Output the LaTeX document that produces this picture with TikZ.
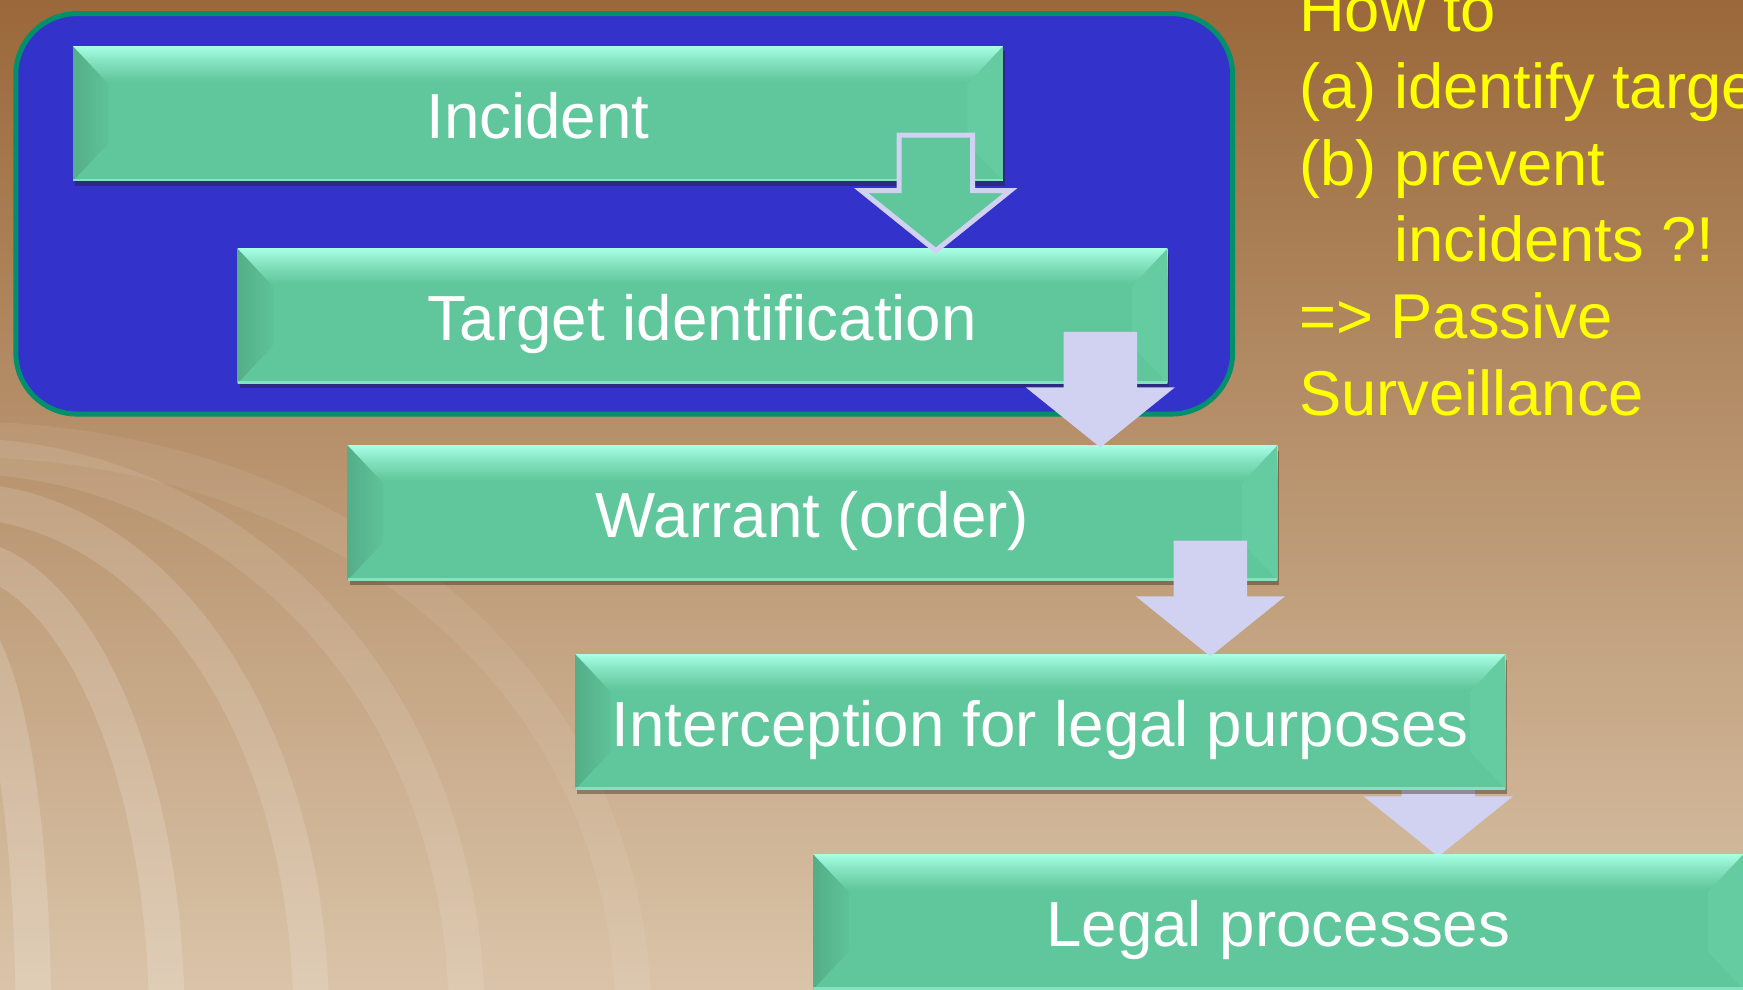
\documentclass[tikz,border=0pt]{standalone}
\usepackage{fontspec}
\setmainfont{Liberation Sans}
\usetikzlibrary{calc,shadows}
\pgfdeclarelayer{bglayer}
\pgfdeclarelayer{behind}
\pgfsetlayers{bglayer,behind,main}
\definecolor{boxgreen}{HTML}{60C69B}
\definecolor{boxlight}{HTML}{A8FFE4}
\definecolor{bevelL}{HTML}{54AE88}
\definecolor{bevelR}{HTML}{65CCA1}
\definecolor{lav}{HTML}{D1D1F1}
\definecolor{grpblue}{HTML}{3333CC}
\definecolor{grpgreen}{HTML}{00906C}
\definecolor{bgtop}{HTML}{9A683A}
\definecolor{bgmid}{HTML}{BC956D}
\definecolor{bgbot}{HTML}{DAC4A9}
\definecolor{txtyellow}{HTML}{FFFF00}
\pgfdeclareverticalshading{boxshade}{100bp}{color(0bp)=(boxgreen); color(62bp)=(boxgreen);
  color(70bp)=(boxlight!55!boxgreen); color(75bp)=(boxlight); color(100bp)=(boxlight)}
\tikzset{
  stepbox/.style={rectangle, fill=boxgreen, minimum width=8.36cm, minimum height=1.21cm,
    inner sep=0pt, anchor=north west, text=white, font=\fontsize{16.3}{19}\selectfont,
    text height=12.8pt, text depth=0pt,
    drop shadow={shadow xshift=0.5pt, shadow yshift=-1.3pt, opacity=0.38, fill=black!80!brown},
    path picture={
      \shade[shading=boxshade]
        (path picture bounding box.north west) rectangle (path picture bounding box.south east);
      \shade[left color=bevelL, right color=boxgreen!85!bevelL] (path picture bounding box.north west) -- ++(0.32cm,-0.34cm)
        -- ($(path picture bounding box.south west)+(0.32cm,0.34cm)$) -- (path picture bounding box.south west) -- cycle;
      \fill[bevelR] (path picture bounding box.north east) -- ++(-0.32cm,-0.34cm)
        -- ($(path picture bounding box.south east)+(-0.32cm,0.34cm)$) -- (path picture bounding box.south east) -- cycle;
      \draw[boxlight!50!boxgreen, line width=1.1pt]
        (path picture bounding box.south west) -- (path picture bounding box.south east);
    }},
  grpbox/.style={draw=grpgreen, line width=0.045cm, fill=grpblue, rounded corners=0.55cm},
  outarrow/.style={fill=boxgreen, draw=lav, line width=0.045cm},
  solidarrow/.style={fill=lav},
  sidetext/.style={anchor=base west, inner sep=0pt, text=txtyellow, font=\fontsize{16.2}{19.6}\selectfont},
  grain/.style={line width=0.32cm, draw=white, line cap=round},
}
\newcommand\flowarrow[3][]{%
  \coordinate (ax) at ($(#2.south east)+(-0.61cm,0)$);
  \coordinate (tip) at ($(ax |- #3.north)+(0,-0.025cm)$);
  \path[#1] (tip) -- +(0.67cm,0.54cm) -- +(0.33cm,0.54cm) -- +(0.33cm,1.04cm)
    -- +(-0.33cm,1.04cm) -- +(-0.33cm,0.54cm) -- +(-0.67cm,0.54cm) -- cycle;}
\begin{document}
\begin{tikzpicture}[x=0.01cm,y=-0.01cm]
\useasboundingbox (0,0) rectangle (1568,890);
\begin{pgfonlayer}{bglayer}
  \shade[top color=bgtop, middle color=bgmid, bottom color=bgbot] (0,0) rectangle (1568,890);
  \begin{scope}
    \clip (0,376) rectangle (900,890);
    \draw[grain, draw opacity=0.17] (30,920) .. controls (30,720) and (0,560) .. (-40,560);
    \draw[grain, draw opacity=0.16] (150,920) .. controls (150,680) and (60,500) .. (-40,500);
    \draw[grain, draw opacity=0.14] (280,920) .. controls (280,640) and (130,450) .. (-40,450);
    \draw[grain, draw opacity=0.10] (420,920) .. controls (420,610) and (200,410) .. (-40,410);
    \draw[grain, draw opacity=0.07] (570,920) .. controls (570,600) and (290,395) .. (-40,395);
  \end{scope}
\end{pgfonlayer}
\node[grpbox, minimum width=10.94cm, minimum height=3.6cm, anchor=north west] (grp) at (12,10) {};
\node[stepbox] (inc) at (65,41) {Incident};
\node[stepbox] (tgt) at (213,223) {Target identification};
\node[stepbox] (war) at (312,400) {Warrant (order)};
\node[stepbox] (icp) at (517,588) {Interception for legal purposes};
\node[stepbox] (leg) at (731,768) {Legal processes};
\flowarrow[outarrow]{inc}{tgt}
\flowarrow[solidarrow]{tgt}{war}
\flowarrow[solidarrow]{war}{icp}
\begin{pgfonlayer}{behind}
\flowarrow[solidarrow]{icp}{leg}
\end{pgfonlayer}
\begin{scope}
  \clip (0,0) rectangle (1568,890);
  \node[sidetext] (t1) at (1168,28.5) {How to};
  \node[sidetext] (t2) at (1168,97.5) {(a) identify targets};
  \node[sidetext] (t3) at (1168,166.5) {(b) prevent};
  \node[sidetext] (t4) at (1168,235.5) {\phantom{(b)\ }incidents ?!};
  \node[sidetext] (t5) at (1168,304.5) {=> Passive};
  \node[sidetext] (t6) at (1168,373.5) {Surveillance};
\end{scope}
\end{tikzpicture}
\end{document}
